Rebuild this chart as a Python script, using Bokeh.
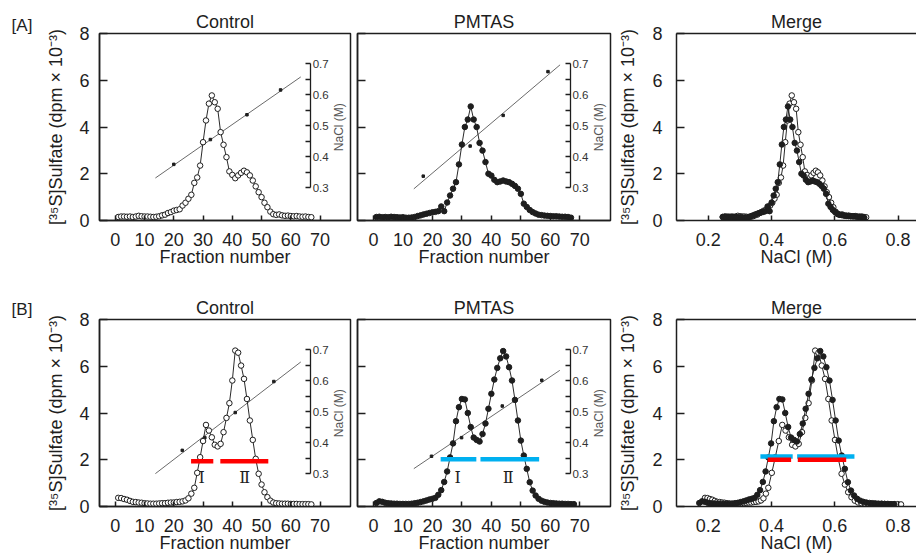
import numpy as np
from bokeh.plotting import figure
from bokeh.models import Range1d, LinearAxis, FixedTicker, Label, CustomLabelingPolicy
from bokeh.layouts import column, row
from bokeh.embed import file_html
from bokeh.resources import INLINE
from bokeh.core.properties import value

FONT = "Liberation Sans"
INK = "#1e1e1e"
RED = "#ff0000"
BLUE = "#00b0f0"
YLABEL = "[³⁵S]Sulfate (dpm × 10⁻³)"

# ---------------- data ----------------
frac_ctrl_a = list(range(1, 68))
ctrl_a = [0.15, 0.17, 0.17, 0.16, 0.17, 0.15, 0.17, 0.20, 0.18, 0.17, 0.17, 0.16, 0.15, 0.16, 0.18,
          0.22, 0.25, 0.32, 0.36, 0.42, 0.45, 0.48, 0.64, 0.76, 0.93, 1.10, 1.61, 1.84, 2.35, 3.35,
          4.28, 5.00, 5.35, 5.06, 4.78, 3.78, 3.24, 2.71,
          2.10, 1.95, 1.81, 1.93, 2.04, 2.13, 2.06, 1.93, 1.71, 1.46, 1.21, 1.00, 0.76, 0.57, 0.38,
          0.27, 0.24, 0.26, 0.22, 0.20, 0.21, 0.19, 0.18, 0.19, 0.17, 0.16, 0.17, 0.15, 0.14]

frac_pmtas_a = list(range(1, 68))
pmtas_a = [0.15, 0.16, 0.14, 0.15, 0.14, 0.16, 0.15, 0.14, 0.13, 0.14, 0.12, 0.12, 0.13, 0.15,
           0.19, 0.22, 0.26, 0.29, 0.32, 0.35, 0.37, 0.40,
           0.60, 0.40, 0.77, 1.07, 1.36, 1.64, 2.40, 3.25, 4.00, 4.32, 4.88, 4.32, 4.00, 3.32, 2.99,
           2.50, 2.00, 1.92, 1.74, 1.64, 1.67, 1.71, 1.67, 1.64, 1.57, 1.48, 1.36, 1.14, 0.72, 0.58,
           0.45, 0.36, 0.30, 0.25, 0.23, 0.21, 0.20, 0.19, 0.18, 0.18, 0.17, 0.16, 0.16, 0.15, 0.12]

frac_ctrl_b = list(range(1, 68))
ctrl_b = [0.37, 0.36, 0.32, 0.29, 0.24, 0.20, 0.19, 0.17, 0.16, 0.14, 0.13, 0.12, 0.12, 0.12, 0.13,
          0.14, 0.14, 0.16, 0.17, 0.17, 0.19, 0.20, 0.22, 0.26, 0.35, 0.55, 0.80, 1.44, 2.11, 2.80,
          3.49, 3.25, 2.96, 2.64, 2.57, 2.68, 3.18, 3.79, 4.42, 5.39, 6.67, 6.58, 6.03, 5.46, 4.60,
          3.68, 2.85, 2.04, 1.40, 0.94, 0.61, 0.40, 0.25, 0.17, 0.14, 0.13, 0.12, 0.12, 0.12, 0.11,
          0.11, 0.11, 0.10, 0.10, 0.10, 0.10, 0.09]

frac_pmtas_b = list(range(1, 69))
pmtas_b = [0.15, 0.22, 0.20, 0.16, 0.14, 0.13, 0.12, 0.12, 0.11, 0.11, 0.11, 0.11, 0.12, 0.14,
           0.16, 0.19, 0.22, 0.26, 0.30, 0.33, 0.37, 0.50, 0.70, 1.05, 1.50, 2.10, 2.70, 3.65,
           4.25, 4.60, 4.58, 4.00, 3.40, 2.95, 2.85, 2.78, 3.10, 3.55, 4.18, 4.82, 5.43, 5.93,
           6.34, 6.65, 6.42, 5.96, 5.39, 4.56, 3.68, 2.82, 2.18, 1.61, 1.04, 0.68, 0.47, 0.33,
           0.25, 0.20, 0.17, 0.15, 0.14, 0.13, 0.12, 0.12, 0.11, 0.11, 0.10, 0.10]

# NaCl gradient (fitted line end points and measured points)
grad_ctrl_a_x, grad_ctrl_a_y = [13.7, 63.4], [0.331, 0.657]
dots_ctrl_a_x, dots_ctrl_a_y = [20.0, 32.5, 45.0, 56.5], [0.375, 0.455, 0.535, 0.615]
grad_pmtas_a_x, grad_pmtas_a_y = [13.7, 63.3], [0.296, 0.696]
dots_pmtas_a_x, dots_pmtas_a_y = [16.9, 32.8, 44.0, 59.2], [0.337, 0.434, 0.533, 0.674]
grad_ctrl_b_x, grad_ctrl_b_y = [13.7, 63.4], [0.300, 0.660]
dots_ctrl_b_x, dots_ctrl_b_y = [22.9, 30.6, 41.0, 54.2], [0.375, 0.416, 0.497, 0.597]
grad_pmtas_b_x, grad_pmtas_b_y = [13.7, 63.2], [0.316, 0.633]
dots_pmtas_b_x, dots_pmtas_b_y = [19.7, 29.9, 43.7, 57.1], [0.356, 0.416, 0.518, 0.601]

# fraction -> NaCl conversion used for the Merge panels
conv_ctrl_a = ([1, 33, 67], [0.246, 0.464, 0.699])
conv_pmtas_a = ([1, 33, 67], [0.246, 0.452, 0.693])
conv_ctrl_b = ([1, 27, 31, 41, 67], [0.19, 0.39, 0.434, 0.538, 0.809])
conv_pmtas_b = ([1, 30, 44, 68], [0.172, 0.425, 0.554, 0.787])

# pooled fractions (I, II)
pool_ctrl_x0, pool_ctrl_x1, pool_ctrl_y = [25.9, 35.9], [33.5, 52.3], [1.94, 1.94]
pool_pmtas_x0, pool_pmtas_x1, pool_pmtas_y = [22.8, 36.3], [34.9, 56.2], [2.02, 2.02]
pool_merge_blue_x0, pool_merge_blue_x1, pool_merge_blue_y = [0.365, 0.481], [0.467, 0.662], [2.14, 2.14]
pool_merge_red_x0, pool_merge_red_x1, pool_merge_red_y = [0.388, 0.483], [0.462, 0.636], [2.0, 2.0]
pool_names = ["Ⅰ", "Ⅱ"]
pool_ctrl_lab_x, pool_pmtas_lab_x, pool_lab_y = [29.5, 44.2], [28.6, 45.7], [1.25, 1.25]

frac_ticks = [0, 10, 20, 30, 40, 50, 60, 70]
sulfate_ticks = [0, 2, 4, 6, 8]
nacl_ticks = [0.3, 0.4, 0.5, 0.6, 0.7]
nacl_minor = [0.35, 0.45, 0.55, 0.65]
merge_ticks = [0.2, 0.4, 0.6, 0.8]
panel_tags = ["[A]", "[B]"]


# ---------------- helpers ----------------
def style_axis(ax, ticks, tick_in, standoff):
    ax.ticker = FixedTicker(ticks=ticks)
    ax.major_tick_in = tick_in
    ax.major_tick_out = 0
    ax.minor_tick_in = 0
    ax.minor_tick_out = 0
    ax.axis_line_color = INK
    ax.axis_line_width = 1.5
    ax.major_tick_line_color = INK
    ax.major_tick_line_width = 1.5
    ax.major_label_text_font = FONT
    ax.major_label_text_font_size = "18px"
    ax.major_label_text_color = INK
    ax.major_label_standoff = standoff
    ax.axis_label_text_font = FONT
    ax.axis_label_text_font_size = "18px"
    ax.axis_label_text_font_style = "normal"
    ax.axis_label_text_color = INK


def style_title(p, standoff):
    p.title.align = "center"
    p.title.text_font = FONT
    p.title.text_font_size = "18px"
    p.title.text_font_style = "normal"
    p.title.text_color = INK
    p.title.standoff = standoff


def make_fig(width, height, border, x_range, title):
    left, right, top, bottom = border
    p = figure(width=width, height=height, x_range=x_range, y_range=Range1d(0, 8),
               min_border_left=left, min_border_right=right, min_border_top=top,
               min_border_bottom=bottom, output_backend="svg", toolbar_location=None,
               tools="", title=title)
    style_title(p, 4)
    p.xgrid.visible = False
    p.ygrid.visible = False
    p.outline_line_color = INK
    p.outline_line_width = 1.5
    p.outline_line_alpha = 1
    p.background_fill_color = "white"
    p.border_fill_color = "white"
    return p


def tag_fig(width, height, text, standoff):
    # narrow, empty plot whose title carries the panel tag ([A], [B])
    t = figure(width=width, height=height, x_range=Range1d(0, 1), y_range=Range1d(0, 1),
               min_border=0, x_axis_location=None, y_axis_location=None, title=text,
               output_backend="svg", toolbar_location=None, tools="")
    style_title(t, standoff)
    t.title.text_font_size = "17px"
    t.outline_line_color = None
    t.xgrid.visible = False
    t.ygrid.visible = False
    return t


def series(p, x, y, filled):
    p.line(x, y, line_color="#2a2a2a", line_width=1)
    p.scatter(x, y, marker="circle", size=5.5, fill_color=INK if filled else "white",
              line_color=INK, line_width=1)


def fraction_panel(width, height, border, title, frac, vals, filled,
                   gx, gy, dx, dy, show_ylab):
    p = make_fig(width, height, border, Range1d(-5.4, 80.4), title)
    xa, ya = p.xaxis[0], p.yaxis[0]
    style_axis(xa, frac_ticks, 5, 12)
    xa.axis_label = "Fraction number"
    xa.axis_label_standoff = -2
    style_axis(ya, sulfate_ticks, 8, 10)
    if show_ylab:
        ya.axis_label = YLABEL
        ya.axis_label_standoff = 10
    else:
        # inward ticks only, no tick labels on the shared axis
        ya.major_label_policy = CustomLabelingPolicy(code="return []")
        ya.major_label_text_font_size = "1px"
        ya.major_label_standoff = 0
    p.extra_y_ranges = {"nacl": Range1d(0.194, 0.797)}
    nax = LinearAxis(y_range_name="nacl", fixed_location=66.8, bounds=(0.3, 0.7),
                     ticker=FixedTicker(ticks=nacl_ticks, minor_ticks=nacl_minor))
    nax.major_tick_in = 5
    nax.major_tick_out = 0
    nax.minor_tick_in = 5
    nax.minor_tick_out = 0
    nax.axis_line_color = INK
    nax.axis_line_width = 1.3
    nax.major_tick_line_color = INK
    nax.minor_tick_line_color = INK
    nax.major_tick_line_width = 1.3
    nax.minor_tick_line_width = 1.3
    nax.major_label_text_font = FONT
    nax.major_label_text_font_size = "11.5px"
    nax.major_label_text_color = "#333333"
    nax.major_label_standoff = 2
    p.add_layout(nax, "right")
    p.add_layout(Label(x=76.4, y=0.495, y_range_name="nacl", text="NaCl (M)", angle=90,
                       angle_units="deg", text_align="center", text_baseline="middle",
                       text_font=FONT, text_font_size="12px", text_color="#555555"))
    p.line(gx, gy, y_range_name="nacl", line_color="#6a6a6a", line_width=1)
    p.scatter(dx, dy, y_range_name="nacl", marker="square", size=2.5, color=INK)
    series(p, frac, vals, filled)
    return p


def merge_panel(width, height, border, title, a_x, a_y, b_x, b_y):
    p = make_fig(width, height, border, Range1d(0.1, 0.858), title)
    p.outline_line_color = None
    xa, ya = p.xaxis[0], p.yaxis[0]
    style_axis(xa, merge_ticks, 5, 12)
    xa.axis_label = "NaCl (M)"
    xa.axis_label_standoff = -2
    style_axis(ya, sulfate_ticks, 8, 14)
    ya.axis_label = YLABEL
    ya.axis_label_standoff = 11
    top = LinearAxis(ticker=FixedTicker(ticks=[]), axis_line_color=INK, axis_line_width=1.5,
                     major_tick_in=0, major_tick_out=0, minor_tick_in=0, minor_tick_out=0,
                     major_label_standoff=0)
    p.add_layout(top, "above")
    series(p, a_x, a_y, False)
    series(p, b_x, b_y, True)
    return p


def pools(p, x0, x1, y, color, lab_x=None):
    p.segment(x0=x0, y0=y, x1=x1, y1=y, line_color=color, line_width=4.5, line_cap="butt")
    if lab_x is not None:
        p.text(x=lab_x, y=pool_lab_y, text=pool_names, text_font=value("DejaVu Serif"),
               text_font_size="16px", text_color=INK, text_align="center",
               text_baseline="middle")


# ---------------- layout ----------------
A_H, B_H = 280, 275
A_B = (33, 60)
B_B = (39, 49)
TAG_W = 43

tag_a = tag_fig(TAG_W, A_H, panel_tags[0], -3)
a1 = fraction_panel(310, A_H, (54, 3) + A_B, "Control", frac_ctrl_a, ctrl_a, False,
                    grad_ctrl_a_x, grad_ctrl_a_y, dots_ctrl_a_x, dots_ctrl_a_y, True)
a2 = fraction_panel(259, A_H, (4, 2) + A_B, "PMTAS", frac_pmtas_a, pmtas_a, True,
                    grad_pmtas_a_x, grad_pmtas_a_y, dots_pmtas_a_x, dots_pmtas_a_y, False)
a3 = merge_panel(304, A_H, (64, 0) + A_B, "Merge",
                 np.interp(frac_ctrl_a, *conv_ctrl_a), ctrl_a,
                 np.interp(frac_pmtas_a, *conv_pmtas_a), pmtas_a)

tag_b = tag_fig(TAG_W, B_H, panel_tags[1], 2)
b1 = fraction_panel(310, B_H, (54, 3) + B_B, "Control", frac_ctrl_b, ctrl_b, False,
                    grad_ctrl_b_x, grad_ctrl_b_y, dots_ctrl_b_x, dots_ctrl_b_y, True)
pools(b1, pool_ctrl_x0, pool_ctrl_x1, pool_ctrl_y, RED, pool_ctrl_lab_x)
b2 = fraction_panel(259, B_H, (4, 2) + B_B, "PMTAS", frac_pmtas_b, pmtas_b, True,
                    grad_pmtas_b_x, grad_pmtas_b_y, dots_pmtas_b_x, dots_pmtas_b_y, False)
pools(b2, pool_pmtas_x0, pool_pmtas_x1, pool_pmtas_y, BLUE, pool_pmtas_lab_x)
b3 = merge_panel(304, B_H, (64, 0) + B_B, "Merge",
                 np.interp(frac_ctrl_b, *conv_ctrl_b), ctrl_b,
                 np.interp(frac_pmtas_b, *conv_pmtas_b), pmtas_b)
pools(b3, pool_merge_blue_x0, pool_merge_blue_x1, pool_merge_blue_y, BLUE)
pools(b3, pool_merge_red_x0, pool_merge_red_x1, pool_merge_red_y, RED)

layout = column(row(tag_a, a1, a2, a3), row(tag_b, b1, b2, b3))

with open("out.html", "w") as f:
    f.write(file_html(layout, INLINE))
